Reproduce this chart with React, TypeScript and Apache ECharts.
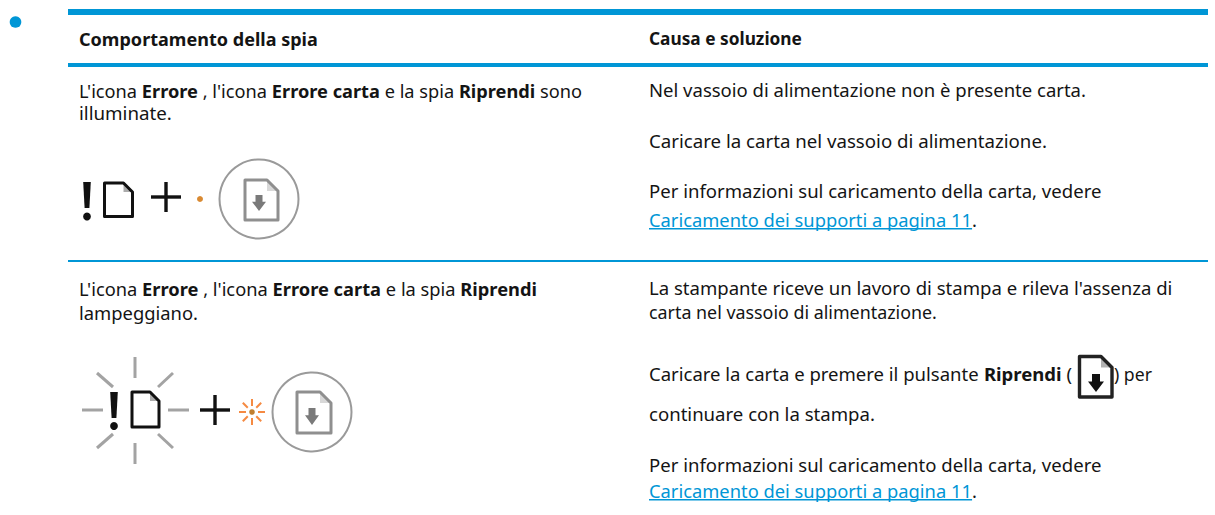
import React, { useEffect, useRef } from "react";
import * as echarts from "echarts";

type Run = { t: string; b?: boolean; link?: boolean };
type Line = { x: number; end: number; y: number; runs: Run[] };

const FONT = "'Noto Sans'";
const BLUE = "#0096D6";
const INK = "#141414";
const GREY = "#8f8f8f";

const headerLines: Line[] = [
  { x: 79, end: 318, y: 38, runs: [{ t: "Comportamento della spia", b: true }] },
  { x: 649, end: 802, y: 38, runs: [{ t: "Causa e soluzione", b: true }] },
];

const leftLines: Line[] = [
  {
    x: 79, end: 582, y: 90,
    runs: [
      { t: "L'icona " }, { t: "Errore", b: true }, { t: " , l'icona " }, { t: "Errore carta", b: true },
      { t: " e la spia " }, { t: "Riprendi", b: true }, { t: " sono" },
    ],
  },
  { x: 79, end: 172, y: 113, runs: [{ t: "illuminate." }] },
  {
    x: 79, end: 537, y: 288,
    runs: [
      { t: "L'icona " }, { t: "Errore", b: true }, { t: " , l'icona " }, { t: "Errore carta", b: true },
      { t: " e la spia " }, { t: "Riprendi", b: true },
    ],
  },
  { x: 79, end: 198, y: 312, runs: [{ t: "lampeggiano." }] },
];

const rightLines: Line[] = [
  { x: 649, end: 1086, y: 90, runs: [{ t: "Nel vassoio di alimentazione non è presente carta." }] },
  { x: 649, end: 1047, y: 141, runs: [{ t: "Caricare la carta nel vassoio di alimentazione." }] },
  { x: 649, end: 1102, y: 191, runs: [{ t: "Per informazioni sul caricamento della carta, vedere" }] },
  { x: 649, end: 977, y: 219, runs: [{ t: "Caricamento dei supporti a pagina 11", link: true }, { t: "." }] },
  { x: 649, end: 1173, y: 288, runs: [{ t: "La stampante riceve un lavoro di stampa e rileva l'assenza di" }] },
  { x: 649, end: 937, y: 312, runs: [{ t: "carta nel vassoio di alimentazione." }] },
  { x: 649, end: 1072, y: 374, runs: [{ t: "Caricare la carta e premere il pulsante " }, { t: "Riprendi", b: true }, { t: " (" }] },
  { x: 1114, end: 1152, y: 374, runs: [{ t: ") per" }] },
  { x: 649, end: 875, y: 414, runs: [{ t: "continuare con la stampa." }] },
  { x: 649, end: 1102, y: 465, runs: [{ t: "Per informazioni sul caricamento della carta, vedere" }] },
  { x: 649, end: 977, y: 490, runs: [{ t: "Caricamento dei supporti a pagina 11", link: true }, { t: "." }] },
];

const ctx = document.createElement("canvas").getContext("2d")!;
const SIZE = 18.5;
const fontOf = (b?: boolean, size = SIZE) => `${b ? "bold " : ""}${size}px ${FONT}`;
const measure = (t: string, b?: boolean) => {
  ctx.font = fontOf(b);
  return ctx.measureText(t).width;
};

function lineToElements(line: Line): any[] {
  const total = line.runs.reduce((s, r) => s + measure(r.t, r.b), 0);
  const sx = (line.end - line.x) / total;
  let cx = line.x;
  const out: any[] = [];
  for (const r of line.runs) {
    const w = measure(r.t, r.b) * sx;
    out.push({
      type: "text",
      x: cx,
      y: line.y,
      scaleX: sx,
      silent: true,
      style: {
        text: r.t,
        font: fontOf(r.b),
        fill: r.link ? BLUE : INK,
        verticalAlign: "middle",
        align: "left",
      },
    });
    if (r.link) {
      out.push({ type: "rect", silent: true, shape: { x: cx, y: line.y + 9, width: w, height: 1.6 }, style: { fill: BLUE } });
    }
    cx += w;
  }
  return out;
}

const seg = (x1: number, y1: number, x2: number, y2: number, stroke: string, lineWidth: number) => ({
  type: "line",
  silent: true,
  shape: { x1, y1, x2, y2 },
  style: { stroke, lineWidth, lineCap: "butt" },
});

function doc(x0: number, y0: number, x1: number, y1: number, stroke: string, lineWidth: number, fold: number): any[] {
  return [
    {
      type: "polygon",
      silent: true,
      shape: { points: [[x0, y0], [x1 - fold, y0], [x1, y0 + fold], [x1, y1], [x0, y1]] },
      style: { fill: "#fff", stroke, lineWidth, lineJoin: "round" },
    },
    {
      type: "polygon",
      silent: true,
      shape: { points: [[x1 - fold, y0], [x1 - fold, y0 + fold], [x1, y0 + fold]] },
      style: { fill: stroke, opacity: 0.35 },
    },
  ];
}

function arrow(cx: number, y0: number, y1: number, fill: string, halfW: number): any {
  const mid = y0 + (y1 - y0) * 0.42;
  const stem = halfW * 0.5;
  return {
    type: "polygon",
    silent: true,
    shape: { points: [[cx - stem, y0], [cx + stem, y0], [cx + stem, mid], [cx + halfW, mid], [cx, y1], [cx - halfW, mid], [cx - stem, mid]] },
    style: { fill },
  };
}

function bang(cx: number, y0: number, y1: number, dotY: number): any[] {
  return [
    { type: "polygon", silent: true, shape: { points: [[cx - 3.8, y0], [cx + 3.8, y0], [cx + 2.4, y1], [cx - 2.4, y1]] }, style: { fill: "#111" } },
    { type: "circle", silent: true, shape: { cx, cy: dotY, r: 3.9 }, style: { fill: "#111" } },
  ];
}

function plus(cx: number, cy: number): any[] {
  return [seg(cx - 15, cy, cx + 15, cy, "#111", 3.4), seg(cx, cy - 15, cx, cy + 15, "#111", 3.4)];
}

function ring(cx: number, cy: number): any {
  return { type: "circle", silent: true, shape: { cx, cy, r: 39.5 }, style: { fill: "#fff", stroke: "#9a9a9a", lineWidth: 2 } };
}

const burstAngles = [0, 45, 90, 135, 180, 225, 270, 315];
const raySegments: [number, number, number, number][] = [
  [135, 357, 135, 378], [135, 443, 135, 464], [82, 410, 103, 410], [168, 410, 189, 410],
  [97, 373, 113, 387], [173, 373, 158, 387], [97, 448, 113, 434], [173, 448, 158, 434],
];

function buildGraphic(): any[] {
  const els: any[] = [];
  els.push({ type: "circle", silent: true, shape: { cx: 15.5, cy: 22, r: 5.8 }, style: { fill: BLUE } });
  els.push({ type: "rect", silent: true, shape: { x: 68, y: 9, width: 1140, height: 6 }, style: { fill: BLUE } });
  els.push({ type: "rect", silent: true, shape: { x: 68, y: 63, width: 1140, height: 4 }, style: { fill: BLUE } });
  els.push({ type: "rect", silent: true, shape: { x: 68, y: 260, width: 1140, height: 2 }, style: { fill: BLUE } });
  [...headerLines, ...leftLines, ...rightLines].forEach((l) => els.push(...lineToElements(l)));

  // Row 1 icons
  els.push(...bang(87, 182, 208, 216.5));
  els.push(...doc(104.5, 183, 132.5, 216.5, "#111", 3, 9));
  els.push(...plus(166, 197));
  els.push({ type: "circle", silent: true, shape: { cx: 200, cy: 199, r: 3 }, style: { fill: "#d98a32" } });
  els.push(ring(259, 199));
  els.push(...doc(245, 180, 278, 220, GREY, 3, 11));
  els.push(arrow(259, 195, 211, "#7a7a7a", 7));

  // Row 2 icons
  raySegments.forEach(([a, b, c, d]) => els.push(seg(a, b, c, d, "#a3a3a3", 3)));
  els.push(...bang(114, 392, 418, 426));
  els.push(...doc(132, 392, 159, 427, "#111", 3, 9));
  els.push(...plus(215, 410));
  burstAngles.forEach((deg) => {
    const a = (deg * Math.PI) / 180;
    els.push(seg(252 + 6 * Math.cos(a), 412 + 6 * Math.sin(a), 252 + 13 * Math.cos(a), 412 + 13 * Math.sin(a), "#f58a42", 2));
  });
  els.push({ type: "circle", silent: true, shape: { cx: 252, cy: 412, r: 2.8 }, style: { fill: "#c07f30" } });
  els.push(ring(312, 412));
  els.push(...doc(297, 392, 331, 433, GREY, 3, 11));
  els.push(arrow(312, 408, 425, "#7a7a7a", 7));

  // Inline resume icon
  els.push(...doc(1079.5, 356.5, 1112, 397, "#222", 3.4, 11));
  els.push(arrow(1096, 374, 392, "#111", 8));
  return els;
}

export default function App() {
  const ref = useRef<HTMLDivElement>(null);
  useEffect(() => {
    const chart = echarts.init(ref.current!, undefined, { renderer: "svg" });
    chart.setOption({ animation: false, backgroundColor: "#ffffff", graphic: { elements: buildGraphic() } });
    return () => chart.dispose();
  }, []);
  return <div ref={ref} style={{ position: "fixed", left: 0, top: 0, width: 1215, height: 515 }} />;
}
